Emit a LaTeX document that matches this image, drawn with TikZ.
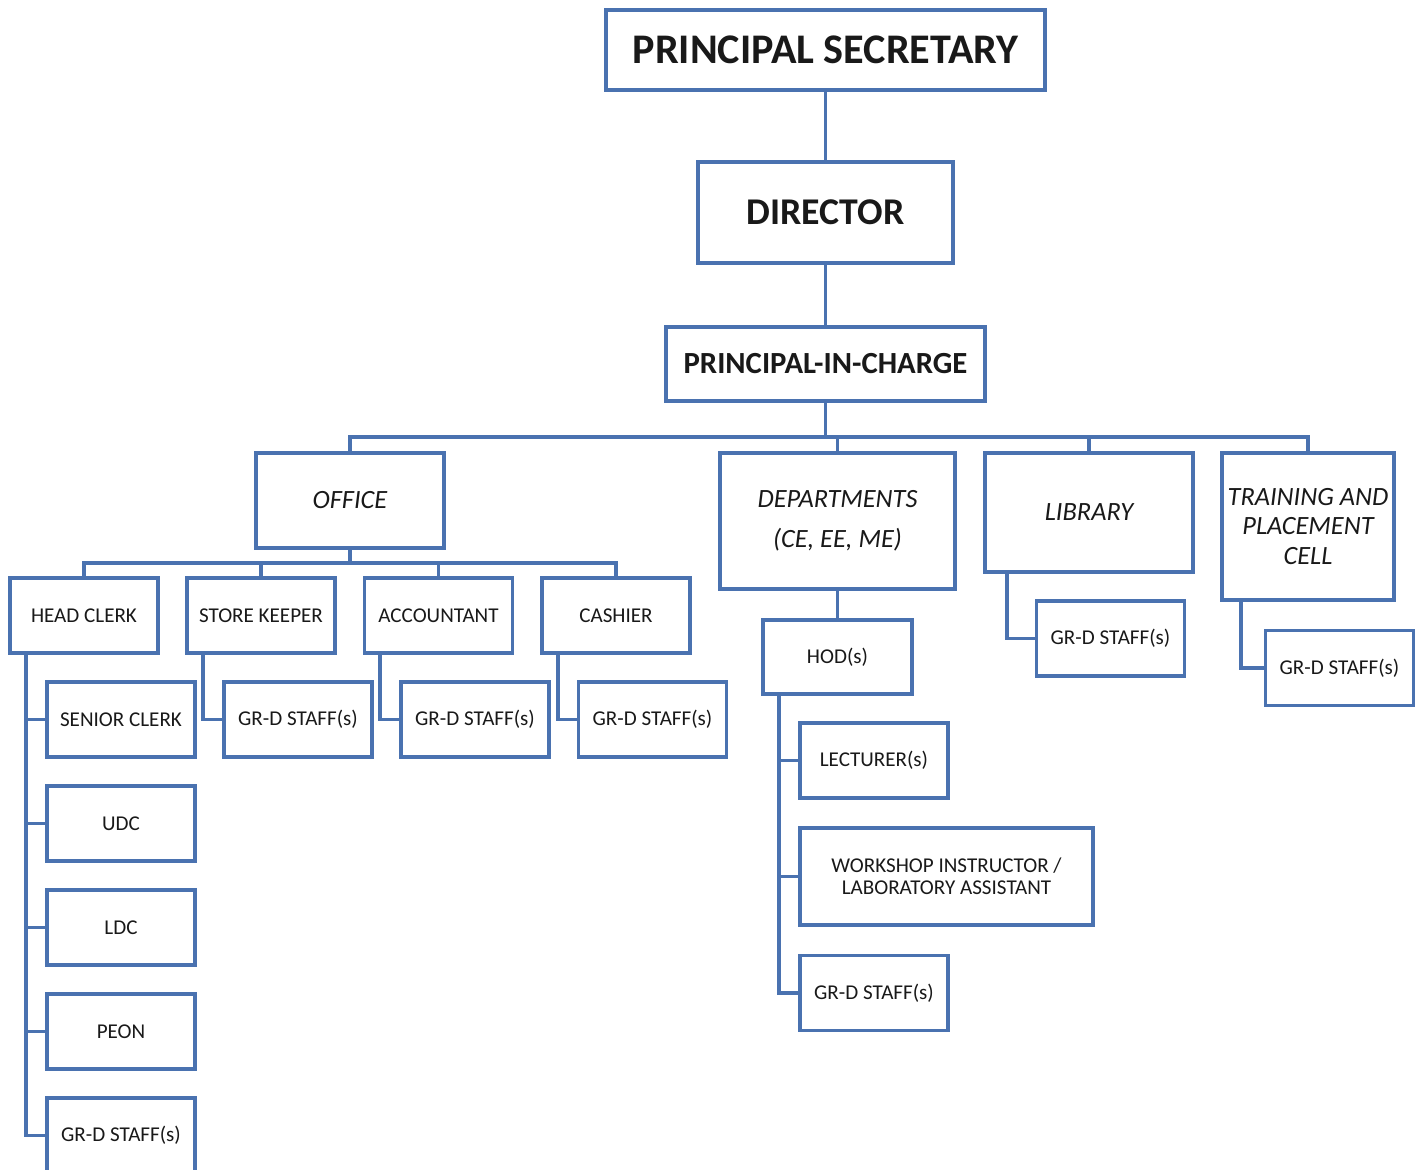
\documentclass[tikz,border=0pt]{standalone}
\usepackage{fontspec}
\setmainfont{Carlito}
\definecolor{bblue}{RGB}{74,114,176}
\definecolor{txt}{RGB}{25,25,25}
\begin{document}
\begin{tikzpicture}[x=0.02cm,y=-0.02cm,
  box/.style={draw=bblue,line width=2pt,fill=white,inner sep=0pt,align=center,text=txt},
  small/.style={box,minimum width=2.96cm,minimum height=1.5cm,font=\fontsize{12}{12.5}\selectfont},
  ital/.style={box,font=\fontsize{15}{17}\selectfont\itshape},
  link/.style={draw=bblue,line width=2.2pt}]
\useasboundingbox (0,0) rectangle (1422,1169);
\clip (0,0) rectangle (1422,1169);
% top chain
\node[box,minimum width=8.78cm,minimum height=1.6cm,font=\fontsize{24}{26}\bfseries] (ps) at (825.5,50) {PRINCIPAL SECRETARY};
\node[box,minimum width=5.1cm,minimum height=2.02cm,font=\fontsize{21.5}{24}\bfseries] (dir) at (825.5,212.5) {DIRECTOR};
\node[box,minimum width=6.38cm,minimum height=1.48cm,font=\fontsize{17.5}{20}\bfseries] (pic) at (825.5,364) {PRINCIPAL-IN-CHARGE};
% second level
\node[ital,minimum width=3.76cm,minimum height=1.9cm] (off) at (350,500.5) {OFFICE};
\node[ital,minimum width=4.7cm,minimum height=2.72cm,font=\fontsize{15}{22.7}\selectfont\itshape] (dept) at (837.5,521) {DEPARTMENTS\\(CE, EE, ME)};
\node[ital,minimum width=4.16cm,minimum height=2.38cm] (lib) at (1089,512.5) {LIBRARY};
\node[ital,minimum width=3.44cm,minimum height=2.94cm,font=\fontsize{15}{16.7}\selectfont\itshape] (tpc) at (1308,526.5) {TRAINING AND\\PLACEMENT\\CELL};
% office children
\node[small] (hc) at (84,615.5) {HEAD CLERK};
\node[small] (sk) at (261,615.5) {STORE KEEPER};
\node[small] (acc) at (438.5,615.5) {ACCOUNTANT};
\node[small] (cas) at (616,615.5) {CASHIER};
\node[small] (sc) at (121,719.5) {SENIOR CLERK};
\node[small] (udc) at (121,823.5) {UDC};
\node[small] (ldc) at (121,927.5) {LDC};
\node[small] (peon) at (121,1031.5) {PEON};
\node[small] (hcg) at (121,1135.5) {GR-D STAFF(s)};
\node[small] (skg) at (298,719.5) {GR-D STAFF(s)};
\node[small] (accg) at (475,719.5) {GR-D STAFF(s)};
\node[small] (casg) at (652.5,719.5) {GR-D STAFF(s)};
% departments
\node[small,minimum width=2.98cm,minimum height=1.48cm] (hod) at (837.5,657) {HOD(s)};
\node[small] (lec) at (874,760.5) {LECTURER(s)};
\node[small,minimum width=5.86cm,minimum height=1.94cm] (ws) at (946.5,876.5) {WORKSHOP INSTRUCTOR /\\LABORATORY ASSISTANT};
\node[small] (hodg) at (874,993) {GR-D STAFF(s)};
% library / tpc
\node[small] (libg) at (1110.5,638.5) {GR-D STAFF(s)};
\node[small] (tpcg) at (1339.5,668) {GR-D STAFF(s)};
% connectors
\draw[link] (ps) -- (dir);
\draw[link] (dir) -- (pic);
\coordinate (bus) at (825.5,437);
\draw[link] (pic) -- (bus);
\draw[link] (off.north) |- (bus) -| (tpc.north);
\draw[link] (dept.north) -- (dept.north |- bus);
\draw[link] (lib.north) -- (lib.north |- bus);
\coordinate (obus) at (350,563);
\draw[link] (off) -- (obus);
\draw[link] (hc.north) |- (obus) -| (cas.north);
\draw[link] (sk.north) -- (sk.north |- obus);
\draw[link] (acc.north) -- (acc.north |- obus);
\draw[link] (hc.south -| 26,0) |- (hcg.west);
\foreach \n in {sc,udc,ldc,peon} \draw[link] (\n.west) -- (\n.west -| 26,0);
\draw[link] (sk.south -| 203,0) |- (skg.west);
\draw[link] (acc.south -| 380,0) |- (accg.west);
\draw[link] (cas.south -| 558,0) |- (casg.west);
\draw[link] (dept) -- (hod);
\draw[link] (hod.south -| 779,0) |- (hodg.west);
\draw[link] (lec.west) -- (lec.west -| 779,0);
\draw[link] (ws.west) -- (ws.west -| 779,0);
\draw[link] (lib.south -| 1007,0) |- (libg.west);
\draw[link] (tpc.south -| 1241,0) |- (tpcg.west);
\end{tikzpicture}
\end{document}
